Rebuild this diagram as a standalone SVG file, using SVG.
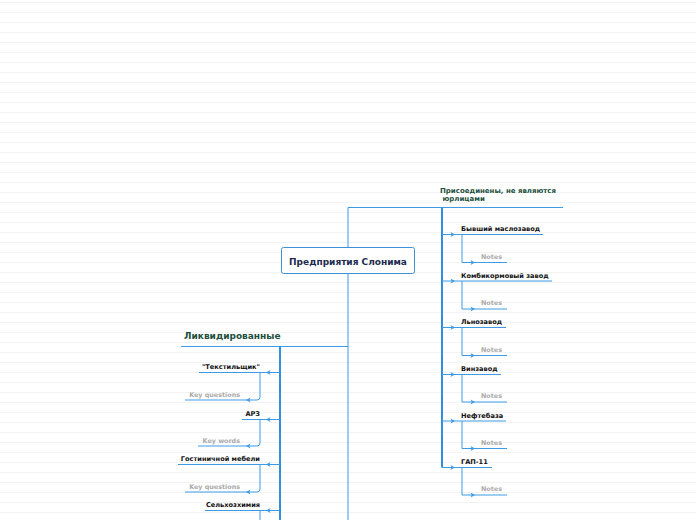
<svg xmlns="http://www.w3.org/2000/svg" width="696" height="520" viewBox="0 0 696 520">
<style>
.bg{fill:none;stroke:#f3f3f3;stroke-width:1}
.ln{fill:none;stroke:#3d9be6;stroke-width:1}
.tr{fill:none;stroke:#2f8fe0;stroke-width:2}
.ah{fill:#3d9be6}
.t{font-family:"DejaVu Sans",Verdana,sans-serif;font-weight:bold}
.main{font-size:9px;fill:#1b2a4e}
.br{font-size:9px;fill:#1c4f3c}
.br2{font-size:7px;fill:#1c4f3c}
.ch{font-size:6.6px;fill:#111}
.nt{font-size:6.4px;fill:#aaaaaa}
</style>
<defs>
<path id="ar" d="M-4.5,-2.5 L0,0 L-4.5,2.5 L-3.3,0 Z"/>
<path id="al" d="M4.5,-2.5 L0,0 L4.5,2.5 L3.3,0 Z"/>
</defs>
<rect x="0" y="0" width="696" height="520" fill="#ffffff"/>
<path class="bg" d="M0,2.5H696M0,12.5H696M0,22.5H696M0,32.5H696M0,42.5H696M0,52.5H696M0,62.5H696M0,72.5H696M0,82.5H696M0,92.5H696M0,102.5H696M0,112.5H696M0,122.5H696M0,132.5H696M0,142.5H696M0,152.5H696M0,162.5H696M0,172.5H696M0,182.5H696M0,192.5H696M0,202.5H696M0,212.5H696M0,222.5H696M0,232.5H696M0,242.5H696M0,252.5H696M0,262.5H696M0,272.5H696M0,282.5H696M0,292.5H696M0,302.5H696M0,312.5H696M0,322.5H696M0,332.5H696M0,342.5H696M0,352.5H696M0,362.5H696M0,372.5H696M0,382.5H696M0,392.5H696M0,402.5H696M0,412.5H696M0,422.5H696M0,432.5H696M0,442.5H696M0,452.5H696M0,462.5H696M0,472.5H696M0,482.5H696M0,492.5H696M0,502.5H696M0,512.5H696"/>

<g id="connectors">
<path class="ln" d="M348,247 V207.5 H563"/>
<path class="ln" d="M348,274 V520"/>
<path class="ln" d="M181,346.5 H348"/>
<path class="tr" d="M442,207.5 V467.5"/>
<path class="tr" d="M280,346.5 V520"/>
<path class="ln" d="M442,234.5 H543 M462,234.5 V262.5 H507"/>
<path class="ln" d="M442,281 H552 M462,281 V309 H507"/>
<path class="ln" d="M442,327.5 H506 M462,327.5 V355.5 H507"/>
<path class="ln" d="M442,374.5 H501 M462,374.5 V402 H507"/>
<path class="ln" d="M442,421 H506 M462,421 V448.5 H507"/>
<path class="ln" d="M442,467.5 H492 M462,467.5 V495 H507"/>
<g class="ah">
<use href="#ar" x="455" y="234.5"/><use href="#ar" x="475" y="262.5"/>
<use href="#ar" x="455" y="281"/><use href="#ar" x="475" y="309"/>
<use href="#ar" x="455" y="327.5"/><use href="#ar" x="475" y="355.5"/>
<use href="#ar" x="455" y="374.5"/><use href="#ar" x="475" y="402"/>
<use href="#ar" x="455" y="421"/><use href="#ar" x="475" y="448.5"/>
<use href="#ar" x="455" y="467.5"/><use href="#ar" x="475" y="495"/>
</g>
<path class="ln" d="M280,372.5 H199 M260,372.5 V397 Q260,400 257,400 H185"/>
<path class="ln" d="M280,419.5 H242 M260,419.5 V443 Q260,446 257,446 H198"/>
<path class="ln" d="M280,464.5 H178 M260,464.5 V489 Q260,492 257,492 H185"/>
<path class="ln" d="M280,510.5 H205 M260,510.5 V520"/>
<g class="ah">
<use href="#al" x="266" y="372.5"/><use href="#al" x="246" y="400"/>
<use href="#al" x="266" y="419.5"/><use href="#al" x="246" y="446"/>
<use href="#al" x="266" y="464.5"/><use href="#al" x="246" y="492"/>
<use href="#al" x="266" y="510.5"/>
</g>
</g>

<g id="central">
<rect x="281.5" y="247.5" width="133" height="26" rx="2" fill="#ffffff" stroke="#3d8fd9" stroke-width="1"/>
<text class="t main" x="348" y="264.5" text-anchor="middle">Предприятия Слонима</text>
</g>

<g id="joined">
<text class="t br2" x="440" y="192.5">Присоединены, не являются</text>
<text class="t br2" x="440" y="201" xml:space="preserve"> юрлицами</text>
</g>
<g id="n1"><text class="t ch" x="461" y="231">Бывший маслозавод</text><text class="t nt" x="481" y="258.5">Notes</text></g>
<g id="n2"><text class="t ch" x="461" y="277.5">Комбикормовый завод</text><text class="t nt" x="481" y="305">Notes</text></g>
<g id="n3"><text class="t ch" x="461" y="324">Льнозавод</text><text class="t nt" x="481" y="351.5">Notes</text></g>
<g id="n4"><text class="t ch" x="461" y="371">Винзавод</text><text class="t nt" x="481" y="398">Notes</text></g>
<g id="n5"><text class="t ch" x="461" y="417.5">Нефтебаза</text><text class="t nt" x="481" y="444.5">Notes</text></g>
<g id="n6"><text class="t ch" x="461" y="464">ГАП-11</text><text class="t nt" x="481" y="491">Notes</text></g>

<g id="liquidated">
<text class="t br" x="184" y="339">Ликвидированные</text>
</g>
<g id="l1"><text class="t ch" x="260" y="369" text-anchor="end">"Текстильщик"</text><text class="t nt" x="240" y="396.5" text-anchor="end">Key questions</text></g>
<g id="l2"><text class="t ch" x="260" y="416" text-anchor="end">АРЗ</text><text class="t nt" x="240" y="442.5" text-anchor="end">Key words</text></g>
<g id="l3"><text class="t ch" x="260" y="461" text-anchor="end">Гостиничной мебели</text><text class="t nt" x="240" y="488.5" text-anchor="end">Key questions</text></g>
<g id="l4"><text class="t ch" x="260" y="507" text-anchor="end">Сельхозхимия</text></g>
</svg>
